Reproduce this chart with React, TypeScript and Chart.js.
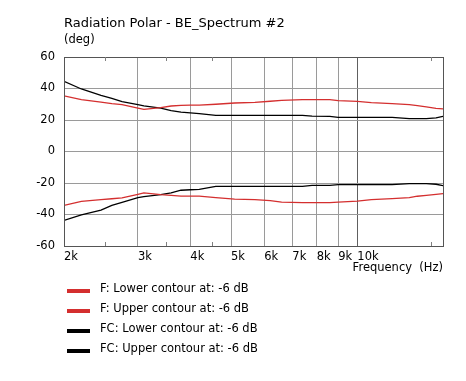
import React, { useEffect, useRef } from "react";
import { Chart, registerables } from "chart.js";

Chart.register(...registerables);

const frequencies = [2000, 2200, 2450, 2600, 2750, 3000, 3100, 3400, 3600, 3800, 4000, 4200, 4600, 5100, 5700, 6200, 6600, 7400, 7800, 8600, 9000, 10000, 10800, 12100, 13300, 13900, 14600, 15400, 16000];
const fLower = [-34.2, -31.6, -30.5, -30.0, -29.5, -27.2, -26.3, -27.4, -27.9, -28.3, -28.3, -28.3, -29.3, -30.2, -30.5, -31.2, -32.1, -32.5, -32.5, -32.5, -32.2, -31.5, -30.5, -29.9, -29.3, -28.4, -27.8, -27.2, -26.7];
const fUpper = [35.3, 33.0, 31.4, 30.4, 29.8, 27.6, 26.8, 27.9, 28.9, 29.3, 29.5, 29.5, 30.0, 30.8, 31.2, 31.9, 32.5, 32.9, 32.9, 32.9, 32.3, 31.8, 31.0, 30.4, 29.8, 29.1, 28.3, 27.4, 27.0];
const fcLower = [-43.7, -40.3, -37.2, -34.2, -32.3, -29.3, -28.7, -27.4, -26.2, -24.6, -24.3, -24.0, -22.1, -22.1, -22.1, -22.1, -22.1, -22.1, -21.5, -21.5, -21.0, -21.0, -21.0, -21.0, -20.4, -20.4, -20.4, -20.8, -21.7];
const fcUpper = [44.6, 39.7, 35.7, 33.8, 31.6, 29.8, 29.0, 27.5, 26.0, 25.0, 24.5, 24.0, 23.0, 23.0, 23.0, 23.0, 23.0, 23.0, 22.5, 22.3, 21.7, 21.7, 21.7, 21.7, 20.9, 20.9, 20.9, 21.3, 22.3];

const seriesNames = [
  "F: Lower contour at: -6 dB",
  "F: Upper contour at: -6 dB",
  "FC: Lower contour at: -6 dB",
  "FC: Upper contour at: -6 dB",
];
const xTickValues = [2000, 3000, 4000, 5000, 6000, 7000, 8000, 9000, 10000];
const xTickLabels = ["2k", "3k", "4k", "5k", "6k", "7k", "8k", "9k", "10k"];
const minorTickValues = [2500, 3500, 4500, 15000];
const yTickLabelValues = [60, 40, 20, 0, -20, -40, -60];

const titleText = "Radiation Polar - BE_Spectrum #2";
const unitText = "(deg)";
const xAxisTitle = "Frequency  (Hz)";

const RED = "#d42f2f";
const BLACK = "#000000";
const FONT = "DejaVu Sans";
const SMALL = 11.5;

export default function App() {
  const ref = useRef<HTMLCanvasElement | null>(null);

  useEffect(() => {
    document.body.style.margin = "0";
    const canvas = ref.current;
    if (!canvas) return;

    const toPts = (arr: number[]) => frequencies.map((f, i) => ({ x: f, y: arr[i] }));
    const colors = [RED, RED, BLACK, BLACK];
    const values = [fLower, fUpper, fcLower, fcUpper];

    const overlay = {
      id: "overlay",
      afterDraw(chart: any) {
        const { ctx, chartArea } = chart;
        const xs = chart.scales.x;
        ctx.save();
        ctx.strokeStyle = "#555555";
        ctx.lineWidth = 1;
        ctx.strokeRect(chartArea.left + 0.5, chartArea.top + 0.5, chartArea.right - chartArea.left, chartArea.bottom - chartArea.top);
        ctx.strokeStyle = "#808080";
        ctx.beginPath();
        for (const v of minorTickValues) {
          const px = Math.round(xs.getPixelForValue(v)) + 0.5;
          ctx.moveTo(px, chartArea.top);
          ctx.lineTo(px, chartArea.top + 4);
          ctx.moveTo(px, chartArea.bottom);
          ctx.lineTo(px, chartArea.bottom - 4);
        }
        ctx.stroke();
        ctx.fillStyle = "#000";
        ctx.textBaseline = "alphabetic";
        ctx.textAlign = "left";
        ctx.font = `13px "${FONT}"`;
        ctx.fillText(titleText, 64, 26.5);
        ctx.font = `${SMALL}px "${FONT}"`;
        ctx.fillText(unitText, 64, 43);
        ctx.textAlign = "right";
        ctx.fillText(xAxisTitle, chartArea.right, 271);
        ctx.textAlign = "left";
        for (let i = 0; i < seriesNames.length; i++) {
          const y = 289 + i * 20;
          ctx.fillStyle = colors[i];
          ctx.fillRect(67, y, 23, 4);
          ctx.fillStyle = "#000";
          ctx.fillText(seriesNames[i], 100, y + 3);
        }
        ctx.restore();
      },
    };

    const chart = new Chart(canvas, {
      type: "line",
      data: {
        datasets: seriesNames.map((name, i) => ({
          label: name,
          data: toPts(values[i]),
          borderColor: colors[i],
          backgroundColor: colors[i],
          borderWidth: 1.3,
          pointRadius: 0,
          tension: 0,
          fill: false,
        })),
      },
      options: {
        responsive: false,
        animation: false,
        layout: { padding: { left: 0, top: 57, right: 23, bottom: 105 } },
        plugins: { legend: { display: false }, title: { display: false }, tooltip: { enabled: false } },
        scales: {
          x: {
            type: "logarithmic",
            min: 2000,
            max: 16000,
            afterBuildTicks: (scale: any) => {
              scale.ticks = xTickValues.map((v) => ({ value: v }));
            },
            afterFit: (scale: any) => {
              scale.height = 30;
            },
            ticks: {
              autoSkip: false,
              maxRotation: 0,
              align: "start",
              padding: 4,
              color: "#000",
              font: { family: FONT, size: SMALL },
              callback: (v: any) => {
                const idx = xTickValues.indexOf(Number(v));
                return idx >= 0 ? xTickLabels[idx] : "";
              },
            },
            grid: {
              drawTicks: false,
              color: (c: any) => (c.tick && c.tick.value === 10000 ? "#606060" : "#9a9a9a"),
              lineWidth: 1,
            },
            border: { display: false },
          },
          y: {
            min: -60,
            max: 60,
            afterFit: (scale: any) => {
              scale.width = 64;
            },
            ticks: {
              stepSize: 10,
              padding: 9,
              color: "#000",
              font: { family: FONT, size: SMALL },
              callback: (v: any) => (yTickLabelValues.includes(Number(v)) ? String(v) : ""),
            },
            grid: { drawTicks: false, color: "#9a9a9a", lineWidth: 1 },
            border: { display: false },
          },
        },
      },
      plugins: [overlay],
    } as any);

    return () => chart.destroy();
  }, []);

  return (
    <div style={{ width: 466, height: 381, background: "#fff" }}>
      <canvas ref={ref} width={466} height={381} style={{ display: "block" }} />
    </div>
  );
}
